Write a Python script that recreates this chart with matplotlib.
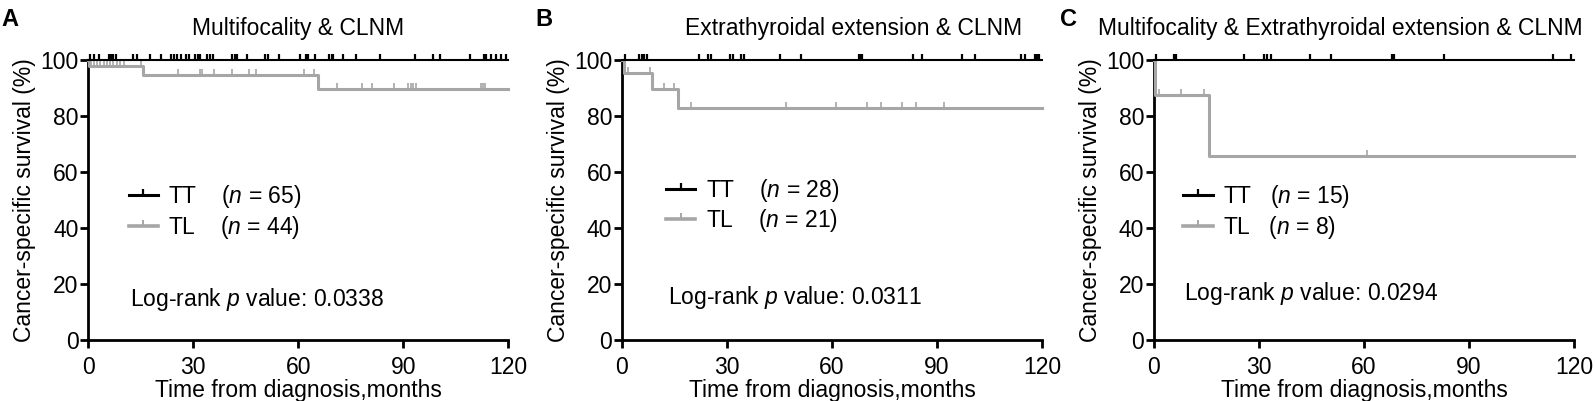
import matplotlib
matplotlib.use("Agg")
import matplotlib.pyplot as plt
import numpy as np
from matplotlib.path import Path
from matplotlib.lines import Line2D

plt.rcParams['font.family'] = ['Liberation Sans', 'DejaVu Sans']
plt.rcParams['mathtext.fontset'] = 'custom'
plt.rcParams['mathtext.it'] = 'Liberation Sans:italic'
plt.rcParams['mathtext.rm'] = 'Liberation Sans'

# ---------------- data (months, survival %) ----------------
titles = ["Multifocality & CLNM",
          "Extrathyroidal extension & CLNM",
          "Multifocality & Extrathyroidal extension & CLNM"]
panel_letters = ["A", "B", "C"]
n_tt = [65, 28, 15]
n_tl = [44, 21, 8]
p_values = ["0.0338", "0.0311", "0.0294"]

# Panel A
A_tt_censor = [0.6, 1.6, 3.1, 6.0, 6.5, 7.1, 7.9, 12.8, 13.8, 17.6, 20.9, 23.7, 24.5,
               25.4, 26.4, 27.9, 28.8, 30.5, 31.2, 32.0, 34.0, 34.8, 35.5, 41.1, 41.8,
               42.5, 45.3, 50.4, 51.2, 54.4, 60.6, 62.3, 62.9, 64.9, 68.8, 69.5, 70.0,
               72.9, 76.4, 83.2, 93.4, 98.6, 100.6, 109.0, 113.1, 113.6, 115.1, 116.5,
               118.0, 119.3]
A_tl_event_t = [0.3, 15.7, 65.5]
A_tl_event_s = [97.7, 94.5, 89.5]
A_tl_censor = [0.9, 1.7, 2.4, 3.3, 4.6, 5.4, 6.1, 7.0, 8.1, 9.1, 10.1, 15.0, 25.6, 31.8,
               32.5, 36.0, 41.1, 46.0, 48.0, 61.6, 64.6, 71.0, 78.1, 81.0, 87.3, 91.4,
               92.1, 92.9, 93.6, 112.2, 112.7, 113.3]

# Panel B
B_tt_censor = [0.8, 4.9, 5.7, 6.4, 7.1, 21.9, 24.7, 25.5, 30.8, 31.6, 34.1, 34.8, 45.0,
               51.2, 67.7, 68.1, 68.6, 83.0, 85.7, 97.1, 100.9, 114.1, 115.1, 118.0,
               118.5, 119.0]
B_tl_event_t = [0.6, 8.7, 16.0]
B_tl_event_s = [95.2, 89.6, 82.9]
B_tl_censor = [1.8, 7.9, 11.9, 14.8, 19.8, 46.9, 61.0, 69.9, 73.9, 80.0, 84.1, 92.0]

# Panel C
C_tt_censor = [0.5, 5.6, 6.2, 25.6, 31.5, 32.2, 33.5, 44.6, 50.6, 68.0, 68.5, 82.8,
               114.1, 119.0]
C_tl_event_t = [0.2, 15.6]
C_tl_event_s = [87.5, 65.6]
C_tl_censor = [1.5, 7.6, 14.4, 60.8]

end_time = 120.0

tt_censor = [A_tt_censor, B_tt_censor, C_tt_censor]
tl_event_t = [A_tl_event_t, B_tl_event_t, C_tl_event_t]
tl_event_s = [A_tl_event_s, B_tl_event_s, C_tl_event_s]
tl_censor = [A_tl_censor, B_tl_censor, C_tl_censor]

x_ticks = [0, 30, 60, 90, 120]
y_ticks = [0, 20, 40, 60, 80, 100]

# ---------------- layout ----------------
FS = 16.5
W, H = 1595, 401
ax_lefts = [88.3, 622, 1154]
ax_w = 420
ax_top, ax_bot = 60, 340
title_cx = [298, 854, 1340]
letter_x = [1, 535, 1060]
legend_x = [11.5, 12.6, 8.4]      # months, left edge of legend handle
legend_y = [35.4, 37.8, 35.4]     # % (legend bottom anchor)
logrank_x = [11.9, 13.0, 8.7]
logrank_y = [12.3, 12.8, 14.3]
gap = ["    ", "    ", "   "]

BLACK = "#000000"
GREY = "#a6a6a6"
tick_up = Path([(0, 0), (0, 1)], [Path.MOVETO, Path.LINETO])


def step_xy(ev_t, ev_s, end):
    x = np.concatenate([[0.0], ev_t, [end]])
    y = np.concatenate([[100.0], ev_s, [ev_s[-1] if len(ev_s) else 100.0]])
    return x, y


def level_at(ev_t, ev_s, t):
    t = np.asarray(t)
    idx = np.searchsorted(np.asarray(ev_t), t, side="right")
    lv = np.concatenate([[100.0], ev_s])
    return lv[idx]


fig = plt.figure(figsize=(W / 100, H / 100), dpi=100)

for i in range(3):
    ax = fig.add_axes([ax_lefts[i] / W, 1 - ax_bot / H, ax_w / W, (ax_bot - ax_top) / H])
    ax.set_xlim(0, 120)
    ax.set_ylim(0, 100)
    for s in ["top", "right"]:
        ax.spines[s].set_visible(False)
    for s in ["left", "bottom"]:
        ax.spines[s].set_linewidth(2.0)
    ax.set_xticks(x_ticks)
    ax.set_yticks(y_ticks)
    ax.tick_params(axis="both", length=6, width=2.0, labelsize=FS, color="black")
    ax.tick_params(axis="x", pad=5.3)
    ax.tick_params(axis="y", pad=1.0)

    # TT curve (no events)
    x, y = step_xy([], [], end_time)
    ax.step(x, y, where="post", color=BLACK, lw=1.5, clip_on=False, zorder=4)
    ax.plot(tt_censor[i], level_at([], [], tt_censor[i]), linestyle="none",
            marker=tick_up, markersize=9, markeredgewidth=1.6, color=BLACK,
            clip_on=False, zorder=5)

    # TL curve
    x, y = step_xy(tl_event_t[i], tl_event_s[i], end_time)
    ax.step(x, y, where="post", color=GREY, lw=2.2, clip_on=False, zorder=3)
    ax.plot(tl_censor[i], level_at(tl_event_t[i], tl_event_s[i], tl_censor[i]),
            linestyle="none", marker=tick_up, markersize=9, markeredgewidth=1.2,
            color=GREY, clip_on=False, zorder=3)

    # legend
    h_tt = Line2D([], [], color=BLACK, lw=2.2, marker=tick_up, markersize=9,
                  markeredgewidth=1.6)
    h_tl = Line2D([], [], color=GREY, lw=2.6, marker=tick_up, markersize=9,
                  markeredgewidth=1.4)
    ax.legend([h_tt, h_tl],
              [f"TT{gap[i]}($\\mathit{{n}}$ = {n_tt[i]})",
               f"TL{gap[i]}($\\mathit{{n}}$ = {n_tl[i]})"],
              loc="lower left",
              bbox_to_anchor=(legend_x[i] / 120, legend_y[i] / 100),
              frameon=False, fontsize=FS, borderpad=0, borderaxespad=0,
              handlelength=1.28, handletextpad=0.45, labelspacing=0.15,
              numpoints=1)

    ax.text(logrank_x[i], logrank_y[i], f"Log-rank $\\mathit{{p}}$ value: {p_values[i]}",
            fontsize=FS, va="baseline", ha="left")

    ax.set_xlabel("Time from diagnosis,months", fontsize=FS, labelpad=0.5)
    ax.set_ylabel("Cancer-specific survival (%)", fontsize=FS, labelpad=3.0)

    fig.text(title_cx[i] / W, 1 - 34.5 / H, titles[i], fontsize=FS, ha="center",
             va="baseline")
    fig.text(letter_x[i] / W, 1 - 8 / H, panel_letters[i], fontsize=17,
             fontweight="bold", ha="left", va="top")

fig.savefig("out.png", dpi=100)
